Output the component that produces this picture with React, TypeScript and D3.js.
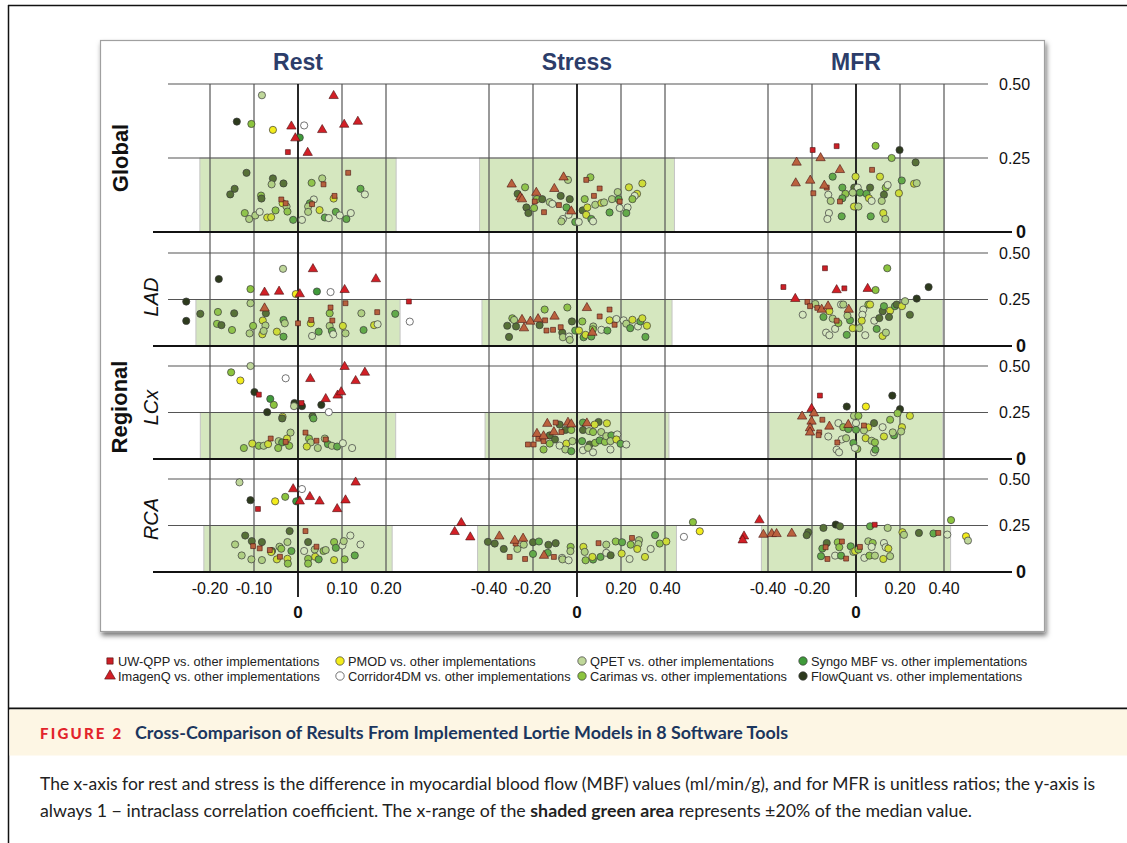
import React from "react";
import * as d3 from "d3";

type Pt = [string, number, number];

// series: key, legend name, marker, fill
const seriesKeys = ["uw", "imq", "pmod", "c4dm", "qpet", "car", "syn", "fq"];
const seriesNames = ["UW-QPP", "ImagenQ", "PMOD", "Corridor4DM", "QPET", "Carimas", "Syngo MBF", "FlowQuant"];
const seriesShapes = ["square", "triangle", "circle", "circle", "circle", "circle", "circle", "circle"];
const seriesColors = ["#cc1f26", "#d21f26", "#f3ec1c", "#ffffff", "#bfd79a", "#8cc43f", "#3f9a3a", "#2d3a1d"];

const columnTitles = ["Rest", "Stress", "MFR"];
const rowLabels = ["Global", "LAD", "LCx", "RCA"];
const restTicks = [-0.2, -0.1, 0.1, 0.2];
const stressTicks = [-0.4, -0.2, 0.2, 0.4];
const mfrTicks = [-0.4, -0.2, 0.2, 0.4];
const yTicks = [0.5, 0.25];

// half width of the shaded band (±20% of median), per row
const restBand = [0.223, 0.232, 0.222, 0.214];
const stressBand = [0.443, 0.432, 0.418, 0.452];
const mfrBand = [0.402, 0.395, 0.395, 0.43];

const restGlobal: Pt[] = [
  ["qpet", -0.082, 0.462], ["imq", 0.081, 0.46], ["fq", -0.139, 0.373], ["car", -0.106, 0.365], ["pmod", -0.057, 0.345],
  ["imq", -0.015, 0.357], ["c4dm", 0.014, 0.36], ["imq", 0.055, 0.345], ["imq", 0.105, 0.363], ["imq", 0.136, 0.373],
  ["imq", -0.006, 0.317], ["syn", 0.004, 0.319], ["uw", -0.023, 0.27], ["imq", 0.022, 0.268],
  ["fq", -0.117, 0.2], ["fq", -0.144, 0.146], ["fq", -0.154, 0.127], ["fq", -0.057, 0.181], ["qpet", -0.06, 0.161],
  ["fq", -0.033, 0.164], ["car", -0.084, 0.123], ["fq", -0.083, 0.113], ["uw", 0.114, 0.2], ["car", 0.031, 0.166],
  ["qpet", 0.055, 0.181], ["uw", 0.058, 0.161], ["syn", 0.142, 0.146], ["c4dm", 0.152, 0.127], ["uw", 0.083, 0.122],
  ["pmod", 0.081, 0.113], ["uw", -0.038, 0.11], ["pmod", -0.035, 0.097], ["uw", -0.028, 0.097], ["qpet", -0.026, 0.086],
  ["c4dm", 0.036, 0.11], ["syn", 0.027, 0.097], ["uw", 0.032, 0.094], ["qpet", 0.023, 0.086], ["car", -0.121, 0.064],
  ["qpet", -0.111, 0.044], ["qpet", -0.097, 0.056], ["c4dm", -0.087, 0.068], ["car", -0.051, 0.073], ["car", -0.024, 0.069],
  ["pmod", -0.07, 0.049], ["pmod", -0.061, 0.05], ["syn", -0.011, 0.041], ["c4dm", 0.009, 0.041], ["qpet", 0.023, 0.068],
  ["pmod", 0.049, 0.074], ["syn", 0.061, 0.049], ["c4dm", 0.07, 0.047], ["syn", 0.086, 0.068], ["c4dm", 0.095, 0.056],
  ["syn", 0.11, 0.044], ["c4dm", 0.12, 0.064],
];

const restLAD: Pt[] = [
  ["qpet", -0.034, 0.415], ["imq", 0.034, 0.414], ["fq", -0.18, 0.36], ["imq", 0.177, 0.36], ["car", -0.108, 0.306],
  ["imq", -0.076, 0.288], ["imq", -0.043, 0.293], ["pmod", -0.005, 0.279], ["imq", 0.004, 0.279], ["syn", 0.043, 0.293],
  ["c4dm", 0.074, 0.29], ["imq", 0.106, 0.302], ["fq", -0.254, 0.239], ["uw", 0.252, 0.239], ["qpet", -0.108, 0.23],
  ["fq", -0.073, 0.176], ["imq", -0.076, 0.203], ["uw", 0.074, 0.207], ["uw", 0.108, 0.23], ["uw", 0.18, 0.182],
  ["qpet", 0.144, 0.176], ["syn", 0.221, 0.173], ["fq", -0.254, 0.135], ["c4dm", 0.254, 0.131], ["fq", -0.222, 0.173],
  ["car", -0.182, 0.183], ["fq", -0.145, 0.176], ["car", -0.184, 0.119], ["fq", -0.174, 0.112], ["car", -0.15, 0.086],
  ["pmod", -0.08, 0.137], ["qpet", -0.074, 0.11], ["car", -0.102, 0.108], ["qpet", -0.11, 0.068], ["pmod", -0.081, 0.063],
  ["qpet", -0.078, 0.081], ["pmod", -0.048, 0.077], ["syn", -0.033, 0.14], ["qpet", -0.03, 0.122], ["syn", -0.033, 0.05],
  ["uw", 0, 0.122], ["uw", 0.03, 0.14], ["pmod", 0.029, 0.122], ["car", 0.072, 0.176], ["uw", 0.078, 0.137],
  ["qpet", 0.072, 0.108], ["syn", 0.077, 0.081], ["c4dm", 0.08, 0.063], ["pmod", 0.102, 0.108], ["qpet", 0.108, 0.068],
  ["c4dm", 0.032, 0.054], ["syn", 0.047, 0.077], ["syn", 0.149, 0.086], ["pmod", 0.173, 0.112], ["c4dm", 0.181, 0.117],
];

const restLCx: Pt[] = [
  ["qpet", -0.108, 0.5], ["car", -0.152, 0.466], ["pmod", -0.131, 0.422], ["c4dm", -0.028, 0.434], ["imq", 0.028, 0.431],
  ["imq", 0.106, 0.496], ["imq", 0.152, 0.465], ["imq", 0.131, 0.42], ["fq", -0.099, 0.36], ["uw", -0.089, 0.346],
  ["imq", 0.09, 0.342], ["imq", 0.098, 0.36], ["imq", 0.063, 0.323], ["syn", -0.063, 0.323], ["car", -0.055, 0.291],
  ["fq", -0.008, 0.301], ["qpet", -0.009, 0.284], ["uw", 0.008, 0.301], ["fq", 0.009, 0.284], ["fq", 0.053, 0.291],
  ["c4dm", 0.07, 0.252], ["fq", -0.07, 0.252], ["pmod", -0.035, 0.227], ["fq", -0.036, 0.218], ["fq", 0.033, 0.23],
  ["syn", 0.035, 0.218], ["qpet", -0.017, 0.142], ["uw", 0.017, 0.142], ["uw", -0.062, 0.11], ["pmod", -0.025, 0.11],
  ["qpet", -0.044, 0.096], ["syn", -0.036, 0.089], ["uw", -0.028, 0.092], ["car", -0.123, 0.059], ["pmod", -0.104, 0.083],
  ["car", -0.089, 0.071], ["qpet", -0.078, 0.071], ["pmod", -0.068, 0.08], ["car", -0.045, 0.059], ["car", -0.02, 0.071],
  ["car", 0.025, 0.11], ["qpet", 0.029, 0.089], ["uw", 0.042, 0.098], ["pmod", 0.02, 0.067], ["qpet", 0.045, 0.059],
  ["qpet", 0.061, 0.11], ["uw", 0.063, 0.105], ["syn", 0.068, 0.08], ["qpet", 0.077, 0.071], ["syn", 0.089, 0.067],
  ["c4dm", 0.102, 0.085], ["c4dm", 0.123, 0.059],
];

const restRCA: Pt[] = [
  ["qpet", -0.133, 0.482], ["imq", -0.011, 0.446], ["c4dm", 0.009, 0.446], ["imq", 0.131, 0.482], ["fq", -0.108, 0.386],
  ["pmod", -0.052, 0.38], ["car", -0.029, 0.404], ["syn", -0.004, 0.38], ["imq", 0.004, 0.38], ["imq", 0.027, 0.404],
  ["imq", 0.049, 0.38], ["imq", 0.108, 0.386], ["imq", 0.089, 0.339], ["uw", -0.091, 0.339],
  ["fq", -0.019, 0.22], ["uw", 0.017, 0.22], ["fq", -0.12, 0.196], ["fq", -0.105, 0.166], ["fq", -0.082, 0.161],
  ["qpet", -0.143, 0.148], ["uw", -0.102, 0.139], ["uw", -0.087, 0.127], ["uw", -0.064, 0.118], ["fq", -0.059, 0.113],
  ["pmod", -0.061, 0.107], ["qpet", -0.042, 0.136], ["car", -0.038, 0.125], ["qpet", -0.024, 0.161], ["syn", -0.015, 0.113],
  ["uw", -0.041, 0.082], ["qpet", -0.128, 0.089], ["qpet", -0.106, 0.068], ["qpet", -0.082, 0.064], ["pmod", -0.048, 0.068],
  ["pmod", -0.024, 0.071], ["car", -0.023, 0.045], ["fq", 0.023, 0.161], ["uw", 0.042, 0.136], ["c4dm", 0.014, 0.113],
  ["qpet", 0.038, 0.121], ["car", 0.058, 0.113], ["qpet", 0.063, 0.118], ["car", 0.023, 0.071], ["car", 0.023, 0.045],
  ["pmod", 0.039, 0.082], ["syn", 0.047, 0.068], ["car", 0.082, 0.161], ["syn", 0.086, 0.13], ["c4dm", 0.101, 0.143],
  ["qpet", 0.104, 0.166], ["c4dm", 0.119, 0.196], ["c4dm", 0.142, 0.148], ["pmod", 0.082, 0.064], ["car", 0.106, 0.068],
  ["syn", 0.129, 0.089],
];

const stressGlobal: Pt[] = [
  ["imq", -0.297, 0.161], ["car", -0.236, 0.151], ["fq", -0.27, 0.129], ["imq", -0.258, 0.117], ["imq", -0.25, 0.111],
  ["fq", -0.23, 0.083], ["fq", -0.221, 0.064], ["car", -0.195, 0.081], ["imq", -0.185, 0.133], ["uw", -0.192, 0.103],
  ["car", -0.182, 0.111], ["fq", -0.158, 0.111], ["uw", -0.15, 0.067], ["qpet", -0.124, 0.101], ["c4dm", -0.112, 0.095],
  ["imq", -0.103, 0.146], ["uw", -0.082, 0.091], ["fq", -0.074, 0.122], ["imq", -0.061, 0.185], ["qpet", -0.041, 0.176],
  ["fq", -0.033, 0.111], ["syn", -0.048, 0.083], ["imq", -0.026, 0.07], ["c4dm", -0.038, 0.058], ["c4dm", -0.064, 0.044],
  ["qpet", -0.071, 0.036], ["syn", -0.008, 0.034], ["c4dm", 0.008, 0.034], ["fq", 0.026, 0.073], ["pmod", 0.047, 0.083],
  ["pmod", 0.042, 0.058], ["syn", 0.065, 0.044], ["c4dm", 0.073, 0.036], ["car", 0.035, 0.111], ["uw", 0.042, 0.176],
  ["car", 0.061, 0.185], ["uw", 0.077, 0.122], ["qpet", 0.083, 0.092], ["uw", 0.103, 0.147], ["pmod", 0.111, 0.098],
  ["qpet", 0.123, 0.1], ["syn", 0.148, 0.066], ["qpet", 0.159, 0.111], ["qpet", 0.185, 0.135], ["syn", 0.189, 0.111],
  ["uw", 0.194, 0.103], ["c4dm", 0.194, 0.081], ["c4dm", 0.23, 0.083], ["syn", 0.224, 0.064], ["pmod", 0.236, 0.151],
  ["pmod", 0.297, 0.164], ["pmod", 0.273, 0.129], ["c4dm", 0.262, 0.122], ["car", 0.252, 0.111],
];

const stressLAD: Pt[] = [
  ["car", -0.147, 0.196], ["car", -0.044, 0.207], ["imq", 0.045, 0.205], ["uw", 0.148, 0.196], ["uw", 0.103, 0.159],
  ["car", -0.294, 0.149], ["qpet", -0.286, 0.14], ["fq", -0.317, 0.109], ["imq", -0.25, 0.141], ["fq", -0.277, 0.105],
  ["imq", -0.241, 0.096], ["imq", -0.212, 0.132], ["imq", -0.177, 0.145], ["uw", -0.145, 0.138], ["fq", -0.17, 0.112],
  ["imq", -0.102, 0.159], ["fq", -0.309, 0.049], ["uw", -0.139, 0.083], ["uw", -0.109, 0.087], ["uw", -0.074, 0.101],
  ["fq", -0.067, 0.072], ["fq", -0.023, 0.132], ["qpet", -0.064, 0.047], ["c4dm", -0.036, 0.051], ["qpet", -0.033, 0.033],
  ["syn", -0.008, 0.083], ["pmod", 0.009, 0.083], ["car", 0.024, 0.132], ["syn", 0.03, 0.047], ["pmod", 0.039, 0.06],
  ["syn", 0.065, 0.051], ["imq", 0.07, 0.072], ["qpet", 0.074, 0.105], ["car", 0.072, 0.09], ["c4dm", 0.111, 0.087],
  ["syn", 0.138, 0.083], ["pmod", 0.148, 0.138], ["c4dm", 0.179, 0.145], ["uw", 0.171, 0.114], ["c4dm", 0.212, 0.138],
  ["qpet", 0.224, 0.12], ["syn", 0.242, 0.096], ["pmod", 0.252, 0.141], ["c4dm", 0.277, 0.105], ["syn", 0.288, 0.132],
  ["pmod", 0.297, 0.149], ["pmod", 0.318, 0.109], ["syn", 0.311, 0.049],
];

const stressLCx: Pt[] = [
  ["imq", -0.135, 0.19], ["uw", -0.097, 0.196], ["fq", -0.079, 0.185], ["imq", -0.041, 0.196], ["imq", -0.026, 0.187],
  ["syn", 0.027, 0.196], ["imq", 0.045, 0.192], ["fq", 0.098, 0.199], ["pmod", 0.08, 0.185], ["pmod", 0.136, 0.192],
  ["imq", -0.182, 0.136], ["uw", -0.176, 0.109], ["imq", -0.152, 0.123], ["uw", -0.152, 0.096], ["imq", -0.105, 0.145],
  ["fq", -0.124, 0.127], ["fq", -0.1, 0.105], ["uw", -0.071, 0.145], ["fq", -0.053, 0.156], ["car", -0.026, 0.156],
  ["uw", -0.223, 0.078], ["uw", -0.197, 0.078], ["car", -0.152, 0.051], ["car", -0.124, 0.083], ["c4dm", -0.079, 0.072],
  ["pmod", -0.048, 0.083], ["qpet", -0.053, 0.051], ["syn", -0.026, 0.042], ["qpet", -0.021, 0.096], ["fq", 0.027, 0.156],
  ["qpet", 0.055, 0.15], ["car", 0.073, 0.145], ["syn", 0.023, 0.096], ["fq", 0.058, 0.078], ["c4dm", 0.027, 0.047],
  ["qpet", 0.05, 0.06], ["c4dm", 0.073, 0.036], ["car", 0.083, 0.087], ["qpet", 0.11, 0.145], ["syn", 0.103, 0.1],
  ["car", 0.127, 0.092], ["qpet", 0.133, 0.123], ["syn", 0.156, 0.127], ["qpet", 0.152, 0.096], ["c4dm", 0.152, 0.051],
  ["c4dm", 0.183, 0.132], ["pmod", 0.179, 0.105], ["syn", 0.198, 0.082], ["c4dm", 0.224, 0.078],
];

const stressRCA: Pt[] = [
  ["imq", -0.526, 0.264], ["imq", -0.556, 0.216], ["imq", -0.485, 0.187], ["imq", -0.353, 0.192], ["fq", -0.405, 0.162],
  ["fq", -0.374, 0.153], ["fq", -0.333, 0.124], ["imq", -0.283, 0.169], ["uw", -0.279, 0.153], ["qpet", -0.271, 0.124],
  ["imq", -0.245, 0.18], ["qpet", -0.242, 0.147], ["uw", -0.306, 0.081], ["uw", -0.236, 0.07], ["fq", -0.2, 0.16],
  ["syn", -0.173, 0.164], ["fq", -0.13, 0.146], ["fq", -0.097, 0.155], ["syn", -0.2, 0.097], ["syn", -0.133, 0.103],
  ["imq", -0.15, 0.088], ["uw", -0.105, 0.081], ["c4dm", -0.068, 0.076], ["qpet", -0.066, 0.068], ["c4dm", -0.038, 0.063],
  ["car", -0.029, 0.135], ["qpet", -0.03, 0.112], ["pmod", 0.029, 0.135], ["qpet", 0.035, 0.108], ["car", 0.039, 0.063],
  ["syn", 0.073, 0.067], ["pmod", 0.07, 0.081], ["uw", 0.098, 0.155], ["qpet", 0.133, 0.147], ["syn", 0.107, 0.081],
  ["c4dm", 0.133, 0.103], ["fq", 0.153, 0.09], ["car", 0.176, 0.164], ["syn", 0.205, 0.16], ["pmod", 0.203, 0.099],
  ["c4dm", 0.239, 0.07], ["uw", 0.25, 0.183], ["car", 0.244, 0.147], ["qpet", 0.282, 0.171], ["qpet", 0.279, 0.15],
  ["pmod", 0.274, 0.124], ["pmod", 0.309, 0.081], ["c4dm", 0.335, 0.124], ["syn", 0.355, 0.198], ["car", 0.376, 0.153],
  ["pmod", 0.406, 0.164], ["c4dm", 0.486, 0.189], ["car", 0.527, 0.268], ["pmod", 0.558, 0.219],
];

const mfrGlobal: Pt[] = [
  ["uw", -0.197, 0.277], ["uw", -0.088, 0.29], ["car", 0.089, 0.291], ["fq", 0.198, 0.277], ["car", 0.162, 0.25],
  ["fq", 0.271, 0.235], ["imq", -0.27, 0.235], ["imq", -0.161, 0.25], ["imq", -0.073, 0.21], ["uw", 0.073, 0.21],
  ["imq", -0.274, 0.165], ["imq", -0.208, 0.174], ["imq", -0.144, 0.157], ["uw", -0.133, 0.15], ["uw", -0.194, 0.131],
  ["syn", -0.106, 0.187], ["pmod", -0.002, 0.187], ["pmod", 0.109, 0.187], ["c4dm", -0.126, 0.126], ["qpet", -0.115, 0.105],
  ["syn", -0.062, 0.15], ["car", -0.048, 0.129], ["syn", -0.062, 0.114], ["uw", -0.073, 0.103], ["fq", -0.008, 0.15],
  ["c4dm", 0.008, 0.15], ["qpet", -0.015, 0.133], ["syn", 0.018, 0.133], ["fq", 0.064, 0.15], ["syn", 0.048, 0.129],
  ["pmod", 0.059, 0.114], ["c4dm", 0.071, 0.105], ["car", 0.135, 0.15], ["c4dm", 0.144, 0.159], ["fq", 0.127, 0.126],
  ["qpet", 0.117, 0.105], ["pmod", 0.195, 0.131], ["syn", 0.208, 0.174], ["pmod", 0.264, 0.163], ["qpet", 0.276, 0.165],
  ["pmod", -0.009, 0.086], ["qpet", 0.011, 0.086], ["c4dm", -0.123, 0.064], ["c4dm", -0.13, 0.044], ["syn", -0.065, 0.053],
  ["syn", 0.067, 0.053], ["pmod", 0.124, 0.064], ["qpet", 0.133, 0.044],
];

const mfrLAD: Pt[] = [
  ["uw", -0.141, 0.418], ["car", 0.142, 0.418], ["uw", -0.33, 0.317], ["imq", -0.088, 0.301], ["uw", -0.053, 0.31],
  ["imq", 0.053, 0.308], ["car", 0.089, 0.301], ["fq", 0.33, 0.317], ["fq", 0.276, 0.255], ["imq", -0.276, 0.254],
  ["uw", -0.221, 0.237], ["uw", -0.209, 0.214], ["qpet", -0.185, 0.226], ["uw", -0.176, 0.205], ["imq", -0.156, 0.196],
  ["imq", -0.127, 0.214], ["pmod", -0.121, 0.187], ["c4dm", -0.242, 0.168], ["syn", -0.148, 0.156], ["uw", -0.088, 0.136],
  ["qpet", -0.106, 0.147], ["c4dm", -0.095, 0.092], ["c4dm", -0.136, 0.072], ["c4dm", -0.121, 0.058], ["car", -0.08, 0.123],
  ["c4dm", -0.068, 0.223], ["qpet", -0.058, 0.223], ["imq", -0.033, 0.196], ["syn", -0.027, 0.138], ["qpet", -0.039, 0.163],
  ["syn", -0.042, 0.06], ["pmod", -0.015, 0.096], ["qpet", 0.015, 0.096], ["c4dm", 0.033, 0.196], ["c4dm", 0.029, 0.168],
  ["pmod", 0.026, 0.136], ["car", 0.056, 0.223], ["pmod", 0.064, 0.223], ["c4dm", 0.042, 0.058], ["c4dm", 0.083, 0.136],
  ["syn", 0.094, 0.092], ["fq", 0.106, 0.15], ["fq", 0.121, 0.187], ["syn", 0.127, 0.214], ["pmod", 0.121, 0.054],
  ["qpet", 0.136, 0.072], ["pmod", 0.155, 0.19], ["fq", 0.15, 0.156], ["syn", 0.177, 0.214], ["fq", 0.185, 0.223],
  ["pmod", 0.209, 0.214], ["qpet", 0.223, 0.241], ["fq", 0.245, 0.168],
];

const mfrLCx: Pt[] = [
  ["uw", -0.164, 0.341], ["fq", 0.165, 0.341], ["fq", -0.042, 0.282], ["pmod", 0.045, 0.282], ["imq", -0.202, 0.27],
  ["imq", -0.191, 0.246], ["imq", -0.245, 0.229], ["fq", 0.2, 0.268], ["car", 0.189, 0.246], ["pmod", 0.245, 0.232],
  ["imq", -0.202, 0.202], ["uw", -0.153, 0.211], ["imq", -0.209, 0.166], ["imq", -0.209, 0.143], ["uw", -0.167, 0.143],
  ["uw", -0.17, 0.128], ["imq", -0.121, 0.175], ["c4dm", -0.08, 0.193], ["car", -0.058, 0.171], ["imq", -0.035, 0.184],
  ["syn", -0.035, 0.161], ["qpet", -0.009, 0.232], ["car", 0.011, 0.232], ["c4dm", 0, 0.193], ["syn", 0, 0.157],
  ["uw", 0.036, 0.18], ["pmod", 0.056, 0.17], ["qpet", 0.036, 0.154], ["fq", 0.082, 0.193], ["c4dm", 0.121, 0.171],
  ["car", 0.155, 0.211], ["pmod", 0.209, 0.171], ["qpet", 0.205, 0.148], ["syn", 0.173, 0.127], ["qpet", 0.167, 0.143],
  ["c4dm", -0.126, 0.121], ["uw", -0.085, 0.089], ["c4dm", -0.065, 0.105], ["qpet", -0.045, 0.112], ["pmod", 0.044, 0.112],
  ["qpet", 0.071, 0.098], ["car", 0.086, 0.089], ["pmod", 0.127, 0.121], ["c4dm", -0.088, 0.05], ["c4dm", -0.077, 0.036],
  ["syn", -0.012, 0.086], ["car", 0.006, 0.054], ["c4dm", -0.005, 0.06], ["c4dm", 0.082, 0.036], ["syn", 0.088, 0.05],
];

const mfrRCA: Pt[] = [
  ["imq", -0.439, 0.279], ["imq", -0.509, 0.192], ["imq", -0.515, 0.171], ["imq", -0.421, 0.201], ["imq", -0.383, 0.205],
  ["imq", -0.361, 0.205], ["imq", -0.292, 0.207], ["fq", -0.217, 0.214], ["fq", -0.224, 0.198], ["fq", -0.148, 0.237],
  ["fq", -0.092, 0.255], ["fq", -0.073, 0.246], ["syn", 0.064, 0.246], ["uw", 0.085, 0.254], ["qpet", 0.144, 0.237],
  ["pmod", 0.211, 0.214], ["qpet", 0.218, 0.2], ["fq", 0.286, 0.21], ["syn", 0.352, 0.207], ["uw", 0.374, 0.21],
  ["c4dm", 0.415, 0.201], ["car", 0.432, 0.279], ["pmod", 0.5, 0.192], ["qpet", 0.509, 0.169], ["fq", -0.133, 0.156],
  ["uw", -0.138, 0.133], ["syn", -0.153, 0.126], ["car", -0.083, 0.16], ["uw", -0.064, 0.164], ["car", -0.076, 0.133],
  ["syn", -0.159, 0.085], ["uw", -0.13, 0.07], ["c4dm", -0.095, 0.088], ["syn", -0.068, 0.088], ["uw", -0.045, 0.072],
  ["syn", -0.024, 0.138], ["qpet", -0.012, 0.108], ["pmod", -0.004, 0.112], ["car", 0.011, 0.121], ["uw", 0.018, 0.135],
  ["c4dm", 0.038, 0.076], ["qpet", 0.056, 0.165], ["car", 0.076, 0.156], ["c4dm", 0.071, 0.135], ["car", 0.061, 0.088],
  ["qpet", 0.086, 0.088], ["c4dm", 0.127, 0.156], ["c4dm", 0.135, 0.133], ["pmod", 0.147, 0.126], ["qpet", 0.155, 0.085],
  ["pmod", 0.124, 0.07],
];

const shadeRGB = "rgb(150,195,95)";
const shadeMix = 0.4;
const shadeFill = d3.interpolateRgb("#ffffff", shadeRGB)(shadeMix);

const font = "'Liberation Sans', Arial, Helvetica, sans-serif";
const capFont = "Lato, 'Open Sans', sans-serif";

const columns = [
  { x: d3.scaleLinear().domain([-0.1, 0.1]).range([254, 342]), ticks: restTicks, bands: restBand, panels: [restGlobal, restLAD, restLCx, restRCA] },
  { x: d3.scaleLinear().domain([-0.2, 0.2]).range([533, 621]), ticks: stressTicks, bands: stressBand, panels: [stressGlobal, stressLAD, stressLCx, stressRCA] },
  { x: d3.scaleLinear().domain([-0.2, 0.2]).range([812, 900]), ticks: mfrTicks, bands: mfrBand, panels: [mfrGlobal, mfrLAD, mfrLCx, mfrRCA] },
];

const rowBounds = [[84, 232], [253, 346], [366, 459], [479, 572]];
const rows = rowBounds.map(([top, bottom]) => d3.scaleLinear().domain([0, 0.5]).range([bottom, top]));

const triPath = d3.symbol().type(d3.symbolTriangle).size(38)() as string;
const sqPath = d3.symbol().type(d3.symbolSquare).size(24)() as string;
const triLegend = d3.symbol().type(d3.symbolTriangle).size(50)() as string;
const sqLegend = d3.symbol().type(d3.symbolSquare).size(40)() as string;

function Marker({ k, cx, cy, shaded, legend }: { k: string; cx: number; cy: number; shaded?: boolean; legend?: boolean }) {
  const i = seriesKeys.indexOf(k);
  const base = seriesColors[i];
  const fill = shaded ? d3.interpolateRgb(base, shadeRGB)(shadeMix) : base;
  const shape = seriesShapes[i];
  const stroke = shape === "circle" ? "#3a3a3a" : "#4a1010";
  if (shape === "circle")
    return <circle cx={cx} cy={cy} r={legend ? 4.2 : 3.6} fill={fill} stroke={stroke} strokeWidth={0.7} />;
  return (
    <path
      d={shape === "triangle" ? (legend ? triLegend : triPath) : legend ? sqLegend : sqPath}
      transform={`translate(${cx},${cy})`}
      fill={fill}
      stroke={stroke}
      strokeWidth={0.6}
    />
  );
}

const order = (p: Pt) => (seriesShapes[seriesKeys.indexOf(p[0])] === "circle" ? 0 : seriesShapes[seriesKeys.indexOf(p[0])] === "square" ? 1 : 2);

export default function App() {
  const fmt = (v: number) => v.toFixed(2);
  return (
    <svg width={1127} height={843} style={{ position: "absolute", left: 0, top: 0, background: "#fff" }} fontFamily={font}>
      <defs>
        <filter id="shadow" x="-5%" y="-5%" width="110%" height="115%">
          <feDropShadow dx="1.5" dy="3.5" stdDeviation="2.5" floodColor="#000" floodOpacity="0.55" />
        </filter>
      </defs>

      {/* outer figure border */}
      <line x1={8.5} x2={8.5} y1={5} y2={843} stroke="#111" strokeWidth={1.5} />
      <line x1={8} x2={1127} y1={5.5} y2={5.5} stroke="#111" strokeWidth={1.5} />

      {/* chart frame */}
      <rect x={100.5} y={40.5} width={944} height={591} fill="#fff" stroke="#a0a0a0" strokeWidth={1.2} filter="url(#shadow)" />

      {/* shaded bands */}
      {columns.map((col, ci) =>
        rows.map((y, ri) => (
          <rect
            key={`b${ci}${ri}`}
            x={col.x(-col.bands[ri])}
            y={y(0.25)}
            width={col.x(col.bands[ri]) - col.x(-col.bands[ri])}
            height={y(0) - y(0.25)}
            fill={shadeFill}
            stroke="#c4c4c4"
            strokeWidth={1}
          />
        ))
      )}

      {/* horizontal grid */}
      {rows.map((y, ri) => (
        <g key={`h${ri}`}>
          {yTicks.map((t) => (
            <line key={t} x1={168} x2={988} y1={y(t)} y2={y(t)} stroke="#555" strokeWidth={1.2} />
          ))}
        </g>
      ))}

      {/* vertical grid */}
      {columns.map((col, ci) => (
        <g key={`v${ci}`}>
          {col.ticks.map((t) => (
            <line key={t} x1={col.x(t)} x2={col.x(t)} y1={rows[0](0.5)} y2={rows[3](0)} stroke="#555" strokeWidth={1.2} />
          ))}
          <line x1={col.x(0)} x2={col.x(0)} y1={rows[0](0.5)} y2={597} stroke="#111" strokeWidth={1.8} />
        </g>
      ))}

      {/* zero lines */}
      {rows.map((y, ri) => (
        <line key={`z${ri}`} x1={153} x2={1012} y1={y(0)} y2={y(0)} stroke="#111" strokeWidth={2} />
      ))}

      {/* points */}
      {columns.map((col, ci) =>
        col.panels.map((pts, ri) =>
          [...pts]
            .sort((a, b) => order(a) - order(b))
            .map((p, i) => {
              const shaded = Math.abs(p[1]) <= col.bands[ri] && p[2] <= 0.25;
              return <Marker key={`p${ci}${ri}${i}`} k={p[0]} cx={col.x(p[1])} cy={rows[ri](p[2])} shaded={shaded} />;
            })
        )
      )}

      {/* column titles */}
      {columns.map((col, ci) => (
        <text key={`t${ci}`} x={col.x(0)} y={70} textAnchor="middle" fontSize={23} fontWeight="bold" fill="#2c3d6a">
          {columnTitles[ci]}
        </text>
      ))}

      {/* x tick labels */}
      {columns.map((col, ci) => (
        <g key={`xt${ci}`} fontSize={16} fill="#111">
          {col.ticks.map((t) => (
            <text key={t} x={col.x(t)} y={594} textAnchor="middle">
              {fmt(t)}
            </text>
          ))}
          <text x={col.x(0)} y={618} textAnchor="middle" fontWeight="bold" fontSize={17}>
            0
          </text>
        </g>
      ))}

      {/* right y labels */}
      {rows.map((y, ri) => (
        <g key={`yl${ri}`} fontSize={16} fill="#111">
          {yTicks.map((t) => (
            <text key={t} x={999} y={y(t) + 5.5}>
              {fmt(t)}
            </text>
          ))}
          <text x={1016} y={y(0) + 6} fontWeight="bold" fontSize={18}>
            0
          </text>
        </g>
      ))}

      {/* row labels */}
      <text transform="translate(128,158) rotate(-90)" textAnchor="middle" fontSize={22} fontWeight="bold" fill="#111">
        Global
      </text>
      <text transform="translate(127,407) rotate(-90)" textAnchor="middle" fontSize={22} fontWeight="bold" fill="#111">
        Regional
      </text>
      {[297, 407.5, 519].map((cy, i) => (
        <text key={`rl${i}`} transform={`translate(158,${cy}) rotate(-90)`} textAnchor="middle" fontSize={20} fontStyle="italic" fill="#111">
          {rowLabels[i + 1]}
        </text>
      ))}

      {/* legend */}
      {seriesKeys.map((k, i) => {
        const lx = [118, 348, 590, 811][Math.floor(i / 2)];
        const ly = [661, 676][i % 2];
        return (
          <g key={`lg${k}`}>
            <Marker k={k} cx={lx - 8} cy={ly} legend />
            <text x={lx} y={ly + 4.5} fontSize={12.8} fill="#222">
              {seriesNames[i]} vs. other implementations
            </text>
          </g>
        );
      })}

      {/* caption */}
      <line x1={8} x2={1127} y1={708.5} y2={708.5} stroke="#111" strokeWidth={2} />
      <rect x={9.5} y={709.5} width={1118} height={46} fill="#fdf6e4" />
      <text x={40} y={739} fontFamily={capFont} fontSize={15} fontWeight="900" letterSpacing={2.2} fill="#e2242b">
        FIGURE 2
      </text>
      <text x={135} y={739} fontFamily={capFont} fontSize={16.5} fontWeight="bold" fill="#1b365e" textLength={653} lengthAdjust="spacingAndGlyphs">
        Cross-Comparison of Results From Implemented Lortie Models in 8 Software Tools
      </text>
      <text x={40} y={790} fontFamily={capFont} fontSize={17.5} fill="#222" textLength={1055} lengthAdjust="spacingAndGlyphs">
        The x-axis for rest and stress is the difference in myocardial blood flow (MBF) values (ml/min/g), and for MFR is unitless ratios; the y-axis is
      </text>
      <text x={40} y={817} fontFamily={capFont} fontSize={17.5} fill="#222" textLength={932} lengthAdjust="spacingAndGlyphs">
        always 1 − intraclass correlation coefficient. The x-range of the <tspan fontWeight="bold">shaded green area</tspan> represents ±20% of the median value.
      </text>
    </svg>
  );
}
